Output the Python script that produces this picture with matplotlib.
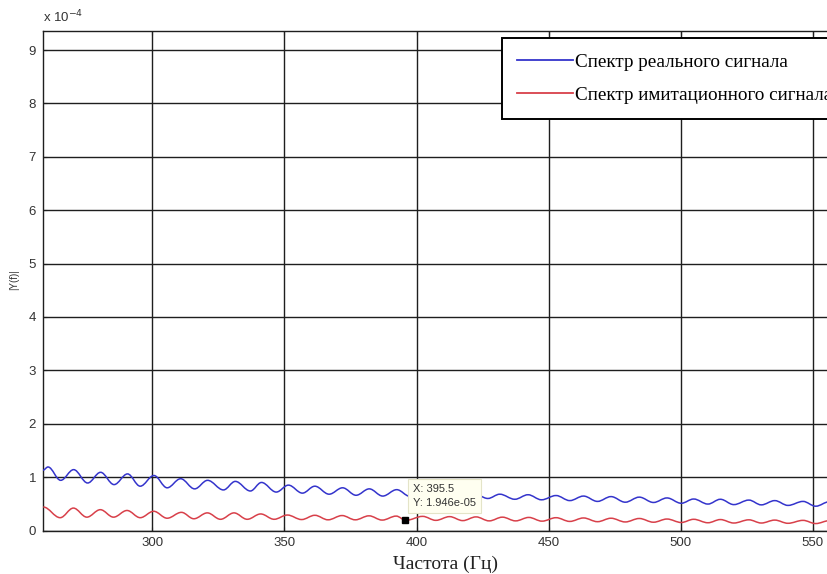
import matplotlib
matplotlib.use("Agg")
import matplotlib.pyplot as plt
import numpy as np
from matplotlib.lines import Line2D
from matplotlib.patches import PathPatch
from matplotlib.path import Path

BLUE = "#3434cc"
RED = "#d8404a"
GRID = "#1e1e1e"
TICK_TXT = "#333333"

# spectrum extrema (amplitude in units of 1e-4)
blue_freq = [258.6, 260.5, 265.3, 270.2, 275.5, 280.4, 285.5, 290.6, 295.4, 300.6,
             305.6, 310.7, 316.0, 320.9, 326.9, 331.4, 337.1, 341.3, 346.9, 351.5,
             356.8, 361.5, 366.9, 372.0, 377.1, 382.1, 387.2, 392.5, 397.5, 402.5,
             407.5, 412.0, 417.0, 421.5, 427.0, 431.5, 437.2, 442.2, 447.3, 452.8,
             458.0, 463.2, 468.5, 473.6, 479.0, 484.3, 489.7, 494.8, 500.2, 504.9,
             510.3, 515.0, 520.1, 525.8, 530.5, 535.6, 540.6, 546.3, 551.1, 556.3]
blue_amp = [1.13, 1.19, 0.94, 1.14, 0.89, 1.09, 0.86, 1.06, 0.83, 1.03,
            0.80, 0.97, 0.78, 0.94, 0.76, 0.92, 0.74, 0.90, 0.72, 0.85,
            0.70, 0.83, 0.68, 0.80, 0.66, 0.78, 0.645, 0.765, 0.64, 0.74,
            0.62, 0.72, 0.61, 0.70, 0.60, 0.68, 0.585, 0.67, 0.575, 0.655,
            0.56, 0.645, 0.545, 0.635, 0.53, 0.625, 0.525, 0.61, 0.51, 0.59,
            0.495, 0.585, 0.485, 0.57, 0.48, 0.56, 0.47, 0.545, 0.455, 0.54]

red_freq = [258.7, 265.1, 270.1, 275.2, 280.3, 285.3, 290.4, 295.4, 300.5, 305.6,
            311.0, 315.7, 320.8, 325.8, 330.9, 335.9, 341.0, 346.1, 351.1, 356.5,
            361.5, 366.5, 371.8, 376.8, 382.0, 387.0, 392.3, 396.0, 402.3, 407.3,
            412.5, 417.5, 422.5, 427.5, 432.5, 437.5, 442.5, 447.5, 452.8, 458.0,
            463.2, 468.5, 473.6, 479.0, 484.3, 489.7, 494.8, 500.2, 504.9, 510.3,
            515.0, 520.1, 525.8, 530.5, 535.6, 540.6, 546.3, 551.1, 556.3]
red_amp = [0.44, 0.24, 0.42, 0.25, 0.39, 0.25, 0.375, 0.24, 0.36, 0.23,
           0.34, 0.22, 0.33, 0.21, 0.33, 0.21, 0.31, 0.21, 0.29, 0.205,
           0.285, 0.20, 0.28, 0.20, 0.275, 0.195, 0.27, 0.19, 0.265, 0.19,
           0.26, 0.185, 0.255, 0.18, 0.25, 0.18, 0.245, 0.175, 0.24, 0.17,
           0.235, 0.165, 0.23, 0.16, 0.225, 0.155, 0.215, 0.15, 0.21, 0.145,
           0.205, 0.14, 0.20, 0.14, 0.195, 0.135, 0.19, 0.13, 0.185]

series_labels = ["Спектр реального сигнала", "Спектр имитационного сигнала"]
x_ticks = [300, 350, 400, 450, 500, 550]
y_ticks = [0, 1, 2, 3, 4, 5, 6, 7, 8, 9]

tip_x = 395.5
tip_y = 1.946e-05

plt.rcParams.update({
    "font.family": "sans-serif",
    "font.sans-serif": ["Liberation Sans", "DejaVu Sans"],
    "font.size": 9.5,
})


def _wave_path(xs, ys):
    """Smooth path through the extrema: horizontal tangents at each peak/trough."""
    verts = [(xs[0], ys[0])]
    codes = [Path.MOVETO]
    for x0, y0, x1, y1 in zip(xs[:-1], ys[:-1], xs[1:], ys[1:]):
        d = (x1 - x0) * 0.36
        verts += [(x0 + d, y0), (x1 - d, y1), (x1, y1)]
        codes += [Path.CURVE4] * 3
    return Path(verts, codes)


W, H = 828, 574
fig = plt.figure(figsize=(W / 100, H / 100), dpi=100)
ax = fig.add_axes([43 / W, (H - 530.5) / H, 792 / W, 499.5 / H])

for xs, ys, color in ((blue_freq, blue_amp, BLUE), (red_freq, red_amp, RED)):
    path = _wave_path(xs, np.array(ys) * 1e-4)
    ax.add_patch(PathPatch(path, fill=False, edgecolor=color, linewidth=1.1,
                           zorder=3))

ax.set_xlim(258.6, 558.4)
ax.set_ylim(0, 9.357e-4)
ax.set_xticks(x_ticks)
ax.set_yticks([v * 1e-4 for v in y_ticks])
ax.set_yticklabels([str(v) for v in y_ticks])
ax.grid(True, color=GRID, linewidth=1.0)
ax.set_axisbelow(True)
ax.tick_params(direction="in", length=3, width=0.8, top=True, right=True,
               colors=GRID, labelcolor=TICK_TXT, pad=5)
for side in ax.spines.values():
    side.set_color(GRID)
    side.set_linewidth(1.0)

ax.text(0, 1.012, r"x 10$^{-4}$", transform=ax.transAxes, ha="left",
        va="bottom", fontsize=9.5, color=TICK_TXT)
fig.text(14 / W, 1 - 280 / H, "|Y(f)|", rotation=90, ha="center",
         va="center", fontsize=7, color=TICK_TXT)
fig.text(446 / W, 1 - 569 / H, "Частота (Гц)", ha="center", va="baseline",
         family="Liberation Serif", fontsize=14, color="#222222")

# data tip
ax.plot([tip_x], [tip_y], marker="s", markersize=4.5, color="black",
        linestyle="none", zorder=5)
ax.annotate(f"X: {tip_x}\nY: {tip_y:.3e}", (tip_x, tip_y),
            xytext=(6, 9), textcoords="offset points", ha="left", va="bottom",
            fontsize=8, color="#333333", linespacing=1.5, zorder=6,
            bbox=dict(boxstyle="square,pad=0.45", facecolor="#fffff0",
                      edgecolor="#e4e4c8", linewidth=0.8))

# legend box runs past the right edge of the picture, as in the source
handles = [Line2D([], [], color=BLUE, linewidth=1.3),
           Line2D([], [], color=RED, linewidth=1.3)]
leg = fig.legend(handles, series_labels, loc="upper left",
                 bbox_to_anchor=(501.7 / W, 1 - 38 / H),
                 prop={"family": "Liberation Serif", "size": 13.8},
                 frameon=True, fancybox=False, framealpha=1,
                 handlelength=2.9, handletextpad=0.14, borderpad=0.8,
                 labelspacing=0.8, borderaxespad=0)
leg.get_frame().set_edgecolor("black")
leg.get_frame().set_linewidth(1.4)

fig.savefig("out.png", dpi=100, facecolor="white")
